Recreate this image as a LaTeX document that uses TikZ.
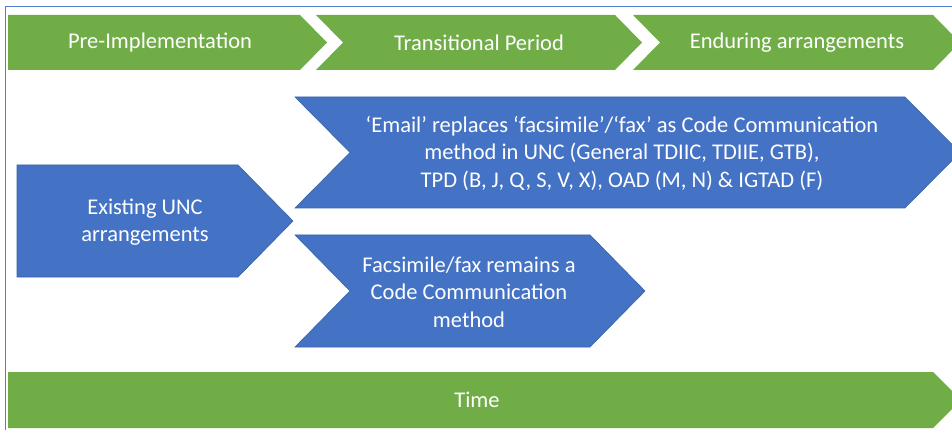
\documentclass[tikz,border=0pt]{standalone}
\usepackage{fontspec}
\setmainfont{Carlito}
\definecolor{grn}{HTML}{70AD47}
\definecolor{blu}{HTML}{4472C4}
\definecolor{bluedge}{HTML}{3A62AA}
\definecolor{framecol}{HTML}{4F7FD0}
\begin{document}
\begin{tikzpicture}[x=1pt,y=-1pt,
  lbl/.style={text=white, font=\fontsize{22.5}{27.5}\selectfont, align=center, inner sep=0pt},
  gshape/.style={fill=grn},
  bshape/.style={fill=blu, draw=bluedge, line width=0.6pt}]
\useasboundingbox (0,0) rectangle (952,430);
\clip (0,0) rectangle (952,430);
% frame
\draw[framecol, line width=1pt] (953,7) -- (5,7) -- (5,431);
% green header chevrons
\path[gshape] (8,15) -- (300,15) -- (327,42.5) -- (300,70) -- (8,70) -- cycle;
\path[gshape] (316,15) -- (615,15) -- (642,42.5) -- (615,70) -- (316,70) -- (343,42.5) -- cycle;
\path[gshape] (633,15) -- (933,15) -- (960,42.5) -- (933,70) -- (633,70) -- (660,42.5) -- cycle;
\node[lbl] (pre) at (160,43) {Pre-Implementation};
\node[lbl] (trans) at (479,43) {Transitional Period};
\node[lbl] (endur) at (797,43) {Enduring arrangements};
% blue shapes
\path[bshape] (17,165) -- (238,165) -- (293,221) -- (238,277) -- (17,277) -- cycle;
\path[bshape] (295,97) -- (905,97) -- (960,152.5) -- (905,208) -- (295,208) -- (350,152.5) -- cycle;
\path[bshape] (295,235) -- (590,235) -- (645,291) -- (590,347) -- (295,347) -- (350,291) -- cycle;
\node[lbl] (exist) at (145,222) {Existing UNC\\arrangements};
\node[lbl] (email) at (622,153) {‘Email’ replaces ‘facsimile’/‘fax’ as Code Communication\\method in UNC (General TDIIC, TDIIE, GTB),\\TPD (B, J, Q, S, V, X), OAD (M, N) \& IGTAD (F)};
\node[lbl] (fax) at (469,292) {Facsimile/fax remains a\\Code Communication\\method};
% time bar
\path[gshape] (8,372) -- (933,372) -- (961,400) -- (933,428) -- (8,428) -- cycle;
\node[lbl] (time) at (477,400) {Time};
\end{tikzpicture}
\end{document}
